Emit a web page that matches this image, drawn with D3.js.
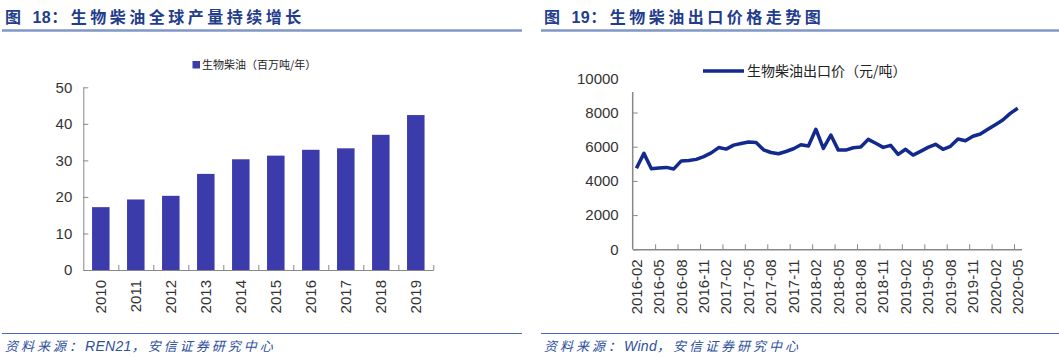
<!DOCTYPE html>
<html lang="zh">
  <head>
    <meta charset="utf-8">
    <script src="https://cdnjs.cloudflare.com/ajax/libs/d3/7.8.5/d3.min.js"></script>
    <style>
      body { margin: 0; background: #fff; }
      svg { display: block; }
      .title { font-family: "Liberation Sans", "Noto Sans CJK SC", sans-serif; font-weight: bold; font-size: 16px; fill: #1f3d8c; letter-spacing: 3.5px; }
      .title .num { letter-spacing: 0.5px; }
      .source { font-family: "Liberation Sans", "Noto Sans CJK SC", sans-serif; font-style: italic; font-size: 13px; fill: #2d4f9e; letter-spacing: 3px; }
      .source .latin { font-size: 14px; letter-spacing: 0.3px; }
      .tick text { font-family: "Liberation Sans", Arial, sans-serif; font-size: 15px; fill: #333; }
      .legend { font-family: "Noto Sans CJK SC", sans-serif; fill: #222; }
      .axis path, .axis line { stroke: #888; }
    </style>
  </head>
  <body>
  <script>
  // fig 18: global biodiesel output (Mt/yr)
  var years = ['2010', '2011', '2012', '2013', '2014', '2015', '2016', '2017', '2018', '2019'];
  var output = [17.2, 19.3, 20.3, 26.3, 30.3, 31.3, 32.9, 33.3, 37.0, 42.4];
  var barTicks = [0, 10, 20, 30, 40, 50];

  // fig 19: biodiesel export price (yuan/t), monthly 2016-02 .. 2020-05
  var price = [
    4740, 5610, 4710, 4750, 4790, 4700, 5170, 5190, 5260, 5420, 5640, 5950,
    5860, 6090, 6190, 6270, 6250, 5820, 5660, 5590, 5720, 5880, 6110, 6040,
    7020, 5900, 6680, 5800, 5800, 5940, 5980, 6430, 6200, 5960, 6080, 5550,
    5850, 5510, 5730, 5960, 6140, 5850, 6020, 6450, 6350, 6610, 6740, 7020,
    7290, 7560, 7950, 8250
  ];
  var priceTicks = [0, 2000, 4000, 6000, 8000, 10000];
  var monthLabels = ['2016-02', '2016-05', '2016-08', '2016-11', '2017-02', '2017-05',
    '2017-08', '2017-11', '2018-02', '2018-05', '2018-08', '2018-11',
    '2019-02', '2019-05', '2019-08', '2019-11', '2020-02', '2020-05'];

  var width = 1059,
      height = 363;

  var svg = d3.select('body')
    .append('svg')
    .attr('width', width)
    .attr('height', height);

  // headers & footers
  function frame (x0, x1, num, title, latin) {
    var t = svg.append('text').attr('class', 'title')
      .attr('x', x0 + 3).attr('y', 23);
    t.append('tspan').text('图 ');
    t.append('tspan').attr('class', 'num').text(num);
    t.append('tspan').text('：' + title);
    svg.append('line')
      .attr('x1', x0).attr('x2', x1).attr('y1', 30.5).attr('y2', 30.5)
      .attr('stroke', '#8197c9').attr('stroke-width', 2.5);
    svg.append('line')
      .attr('x1', x0).attr('x2', x1).attr('y1', 333.5).attr('y2', 333.5)
      .attr('stroke', '#4a68b5').attr('stroke-width', 1.2);
    var s = svg.append('text').attr('class', 'source')
      .attr('x', x0 + 3).attr('y', 351);
    s.append('tspan').text('资料来源：');
    s.append('tspan').attr('class', 'latin').text(latin);
    s.append('tspan').text('，安信证券研究中心');
  }
  frame(2, 522, '18', '生物柴油全球产量持续增长', 'REN21');
  frame(541, 1059, '19', '生物柴油出口价格走势图', 'Wind');

  // ---- bar chart ----
  var bx0 = 83.3, bx1 = 433.3, by0 = 270, by1 = 87.3;

  var xb = d3.scaleBand().domain(years).range([bx0, bx1])
    .paddingInner(0.5).paddingOuter(0.25);
  var edge = d3.scaleLinear().domain([0, years.length]).range([bx0, bx1]);
  var yb = d3.scaleLinear().domain([0, 50]).range([by0, by1]);

  var bars = svg.append('g');
  bars.selectAll('rect')
    .data(output)
    .enter().append('rect')
      .attr('x', (d, i) => xb(years[i]))
      .attr('y', d => yb(d))
      .attr('width', xb.bandwidth())
      .attr('height', d => yb(0) - yb(d))
      .attr('fill', '#3b3bab');

  svg.append('g').attr('class', 'axis')
    .attr('transform', 'translate(' + bx0 + ',0)')
    .call(d3.axisLeft(yb).tickValues(barTicks).tickSizeInner(-5).tickSizeOuter(0).tickPadding(11));

  svg.append('g').attr('class', 'axis')
    .attr('transform', 'translate(0,' + by0 + ')')
    .call(d3.axisBottom(edge).tickValues(d3.range(1, years.length + 1)).tickSizeInner(-5).tickSizeOuter(0).tickFormat(''));

  svg.append('g').attr('class', 'tick')
    .selectAll('text')
    .data(years)
    .enter().append('text')
      .attr('transform', d => 'translate(' + (xb(d) + xb.bandwidth() / 2) + ',' + (by0 + 10) + ') rotate(-90)')
      .attr('text-anchor', 'end')
      .attr('dy', '0.35em')
      .text(d => d);

  // legend
  var bl = svg.append('g').attr('transform', 'translate(192.5,61)');
  bl.append('rect').attr('width', 7.5).attr('height', 7.5).attr('fill', '#3b3bab');
  bl.append('text').attr('class', 'legend').attr('x', 9.5).attr('y', 7.8)
    .style('font-size', '11px').text('生物柴油（百万吨/年）');

  // ---- line chart ----
  var lx0 = 632.7, lx1 = 1021.5, ly0 = 249.3, ly1 = 78.3, plotTop = 92;
  var idx = d3.range(price.length);

  var xl = d3.scaleBand().domain(idx).range([lx0, lx1]);
  var ledge = d3.scaleLinear().domain([0, price.length]).range([lx0, lx1]);
  var yl = d3.scaleLinear().domain([0, 10000]).range([ly0, ly1]);

  var yAxisL = svg.append('g').attr('class', 'axis')
    .attr('transform', 'translate(' + lx0 + ',0)')
    .call(d3.axisLeft(yl).tickValues(priceTicks).tickFormat(d3.format('d'))
      .tickSizeInner(-5).tickSizeOuter(0).tickPadding(14));
  yAxisL.select('.domain').remove();
  yAxisL.selectAll('.tick line').filter(d => d > 8000).remove();
  yAxisL.append('line').attr('y1', ly0).attr('y2', plotTop).attr('stroke', '#888').attr('stroke-width', 1.5);

  svg.append('g').attr('class', 'axis')
    .attr('transform', 'translate(0,' + ly0 + ')')
    .call(d3.axisBottom(ledge).tickValues(d3.range(3, price.length, 3)).tickSizeInner(-5).tickSizeOuter(0).tickFormat(''))
    .call(g => g.select('.domain').attr('stroke-width', 1.5));

  svg.append('g').attr('class', 'tick')
    .selectAll('text')
    .data(monthLabels)
    .enter().append('text')
      .attr('transform', (d, i) => 'translate(' + (xl(i * 3) + xl.bandwidth() / 2) + ',' + (ly0 + 10) + ') rotate(-90)')
      .attr('text-anchor', 'end')
      .attr('dy', '0.35em')
      .text(d => d);

  var line = d3.line()
    .x((d, i) => xl(i) + xl.bandwidth() / 2)
    .y(d => yl(d));

  svg.append('path')
    .datum(price)
    .attr('d', line)
    .attr('fill', 'none')
    .attr('stroke', '#12298d')
    .attr('stroke-width', 3.5)
    .attr('stroke-linejoin', 'round');

  // legend
  var ll = svg.append('g').attr('transform', 'translate(703,71)');
  ll.append('line').attr('x1', 0).attr('x2', 41).attr('stroke', '#12298d').attr('stroke-width', 3.5);
  ll.append('text').attr('class', 'legend').attr('x', 44).attr('y', 5)
    .style('font-size', '14px').text('生物柴油出口价（元/吨）');
  </script>
  </body>
</html>
